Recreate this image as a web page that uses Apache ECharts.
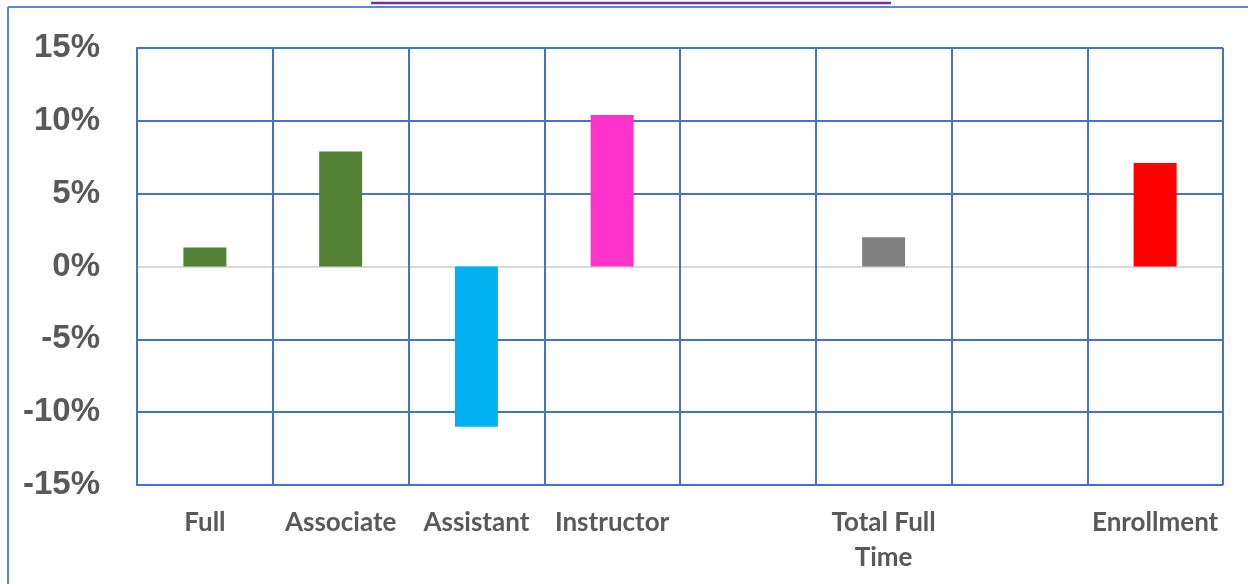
<!DOCTYPE html>
<html>
<head>
<meta charset="utf-8">
<script src="https://cdn.jsdelivr.net/npm/echarts@6/dist/echarts.min.js"></script>
<style>
html,body{margin:0;padding:0;background:#fff;}
#chart{width:1248px;height:584px;}
</style>
</head>
<body>
<div id="chart"></div>
<script>
const categories = ['Full', 'Associate', 'Assistant', 'Instructor', '', 'Total Full\nTime', '', 'Enrollment'];
const values = [1.3, 7.9, -11.0, 10.4, null, 2.0, null, 7.1];
const barColors = ['#548235', '#548235', '#00B0F0', '#FF33CC', '#808080', '#808080', '#FF0000', '#FF0000'];
const yTicks = [-15, -10, -5, 0, 5, 10, 15];

const gridBlue = '#4472C4';
const chart = echarts.init(document.getElementById('chart'), null, {renderer: 'canvas'});
chart.setOption({
  animation: false,
  backgroundColor: '#ffffff',
  grid: {left: 137, right: 25, top: 48, bottom: 99, containLabel: false},
  xAxis: {
    type: 'category',
    data: categories,
    boundaryGap: true,
    axisLine: {show: false},
    axisTick: {show: false},
    axisLabel: {
      interval: 0,
      margin: 20,
      fontFamily: 'Lato',
      fontWeight: 'bold',
      fontSize: 26,
      lineHeight: 35,
      color: '#595959',
      verticalAlign: 'top'
    },
    splitLine: {show: true, interval: 0, lineStyle: {color: gridBlue, width: 2}}
  },
  yAxis: {
    type: 'value',
    min: yTicks[0],
    max: yTicks[yTicks.length - 1],
    interval: 5,
    axisLine: {show: true, lineStyle: {color: gridBlue, width: 2}},
    axisTick: {show: false},
    axisLabel: {
      margin: 37,
      fontFamily: 'Liberation Sans',
      fontWeight: 'bold',
      fontSize: 33,
      color: '#595959',
      padding: [5, 0, 0, 0],
      formatter: v => v + '%'
    },
    splitLine: {
      show: true,
      lineStyle: {
        color: yTicks.map(v => v === 0 ? '#D9D9D9' : gridBlue),
        width: 2
      }
    }
  },
  series: [{
    type: 'bar',
    data: values.map((v, i) => ({value: v, itemStyle: {color: barColors[i]}})),
    barWidth: 43
  }],
  graphic: [
    {type: 'line', shape: {x1: 371, y1: 3, x2: 891, y2: 3}, style: {stroke: '#7030A0', lineWidth: 2.5}},
    {type: 'line', shape: {x1: 8, y1: 7, x2: 1248, y2: 7}, style: {stroke: '#5B87CE', lineWidth: 2}},
    {type: 'line', shape: {x1: 8, y1: 7, x2: 8, y2: 584}, style: {stroke: '#5B87CE', lineWidth: 2}}
  ]
});
</script>
</body>
</html>
